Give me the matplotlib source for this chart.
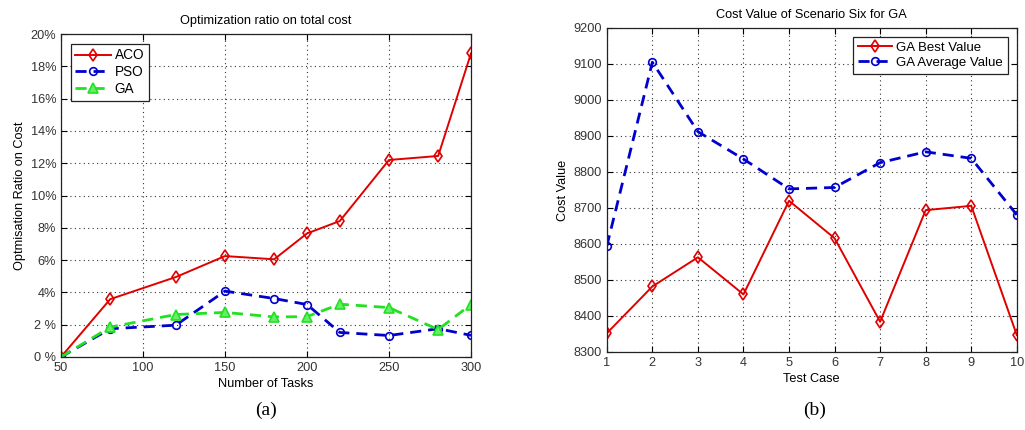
import matplotlib
matplotlib.use('Agg')
from matplotlib import pyplot as plt
from matplotlib.ticker import FixedLocator

plt.rcParams['font.family'] = ['Liberation Sans', 'DejaVu Sans']

# данные (a)
tasks = [50, 80, 120, 150, 180, 200, 220, 250, 280, 300]
aco = [0, 3.58, 4.95, 6.25, 6.05, 7.65, 8.42, 12.2, 12.45, 18.8]
pso = [0, 1.75, 1.97, 4.08, 3.62, 3.25, 1.52, 1.33, 1.75, 1.34]
ga = [0, 1.85, 2.63, 2.76, 2.48, 2.5, 3.27, 3.06, 1.7, 3.25]
yticks_a = [0, 2, 4, 6, 8, 10, 12, 14, 16, 18, 20]
ylabels_a = ['0 %', '2 %', '4%', '6%', '8%', '10%', '12%', '14%', '16%', '18%', '20%']

# данные (b)
cases = [1, 2, 3, 4, 5, 6, 7, 8, 9, 10]
best = [8352, 8482, 8563, 8460, 8720, 8616, 8384, 8694, 8706, 8347]
avg = [8594, 9105, 8912, 8836, 8753, 8757, 8826, 8856, 8838, 8681]

RED = '#e00000'
BLUE = '#0000cc'
GREEN = '#22e022'
FS = 9.2

fig = plt.figure(figsize=(10.25, 4.3), dpi=100)


def matlab_style(ax):
    ax.grid(True, linestyle=(0, (1, 3)), color='#333333', linewidth=0.8)
    ax.tick_params(direction='in', top=True, right=True, labelsize=FS, length=4, width=0.8,
                   labelcolor='#333333')
    for s in ax.spines.values():
        s.set_linewidth(0.9)
        s.set_color('#222222')


ax1 = fig.add_axes([0.0595, 0.1698, 0.40, 0.751])
ax1.plot(tasks, aco, color=RED, lw=1.4, marker='d', ms=6, mfc='none', mew=1.2, label='ACO')
ax1.plot(tasks, pso, color=BLUE, lw=2, ls=(0, (4, 2.5)), marker='o', ms=5.5, mfc='none', mew=1.2, label='PSO')
ax1.plot(tasks, ga, color=GREEN, lw=2, ls=(0, (4, 2.5)), marker='^', ms=6.5, mfc='#66ee66', mew=1.2, label='GA')
ax1.set_xlim(50, 300)
ax1.set_ylim(0, 20)
ax1.yaxis.set_major_locator(FixedLocator(yticks_a))
ax1.set_yticklabels(ylabels_a)
ax1.set_xticks([50, 100, 150, 200, 250, 300])
matlab_style(ax1)
ax1.set_title('Optimization ratio on total cost', fontsize=FS, pad=7)
ax1.set_xlabel('Number of Tasks', fontsize=FS, labelpad=3)
ax1.set_ylabel('Optmisation Ratio on Cost', fontsize=FS, labelpad=3)
leg = ax1.legend(loc='upper left', fontsize=9.8, handlelength=2.6, borderaxespad=0.7,
                 fancybox=False, framealpha=1, edgecolor='#222222', labelspacing=0.2,
                 handletextpad=0.3, borderpad=0.35)
leg.get_frame().set_linewidth(0.9)

ax2 = fig.add_axes([0.592, 0.1814, 0.40, 0.7535])
ax2.plot(cases, best, color=RED, lw=1.4, marker='d', ms=6, mfc='none', mew=1.2, label='GA Best Value')
ax2.plot(cases, avg, color=BLUE, lw=2, ls=(0, (4, 2.5)), marker='o', ms=5.5, mfc='none', mew=1.2, label='GA Average Value')
ax2.set_xlim(1, 10)
ax2.set_ylim(8300, 9200)
ax2.set_xticks(cases)
ax2.set_yticks(range(8300, 9201, 100))
matlab_style(ax2)
ax2.set_title('Cost Value of Scenario Six for GA', fontsize=FS, pad=7)
ax2.set_xlabel('Test Case', fontsize=FS, labelpad=3)
ax2.set_ylabel('Cost Value', fontsize=FS, labelpad=3)
leg2 = ax2.legend(loc='upper right', fontsize=9.5, handlelength=2.6, borderaxespad=0.7,
                  fancybox=False, framealpha=1, edgecolor='#222222', labelspacing=0.2,
                  handletextpad=0.3, borderpad=0.35)
leg2.get_frame().set_linewidth(0.9)

# подписи (a), (b)
fig.text(266 / 1025, 1 - 410 / 430, '(a)', family='Liberation Serif', fontsize=14, ha='center', va='center')
fig.text(815 / 1025, 1 - 410 / 430, '(b)', family='Liberation Serif', fontsize=14, ha='center', va='center')

fig.savefig('out.png', dpi=100)
